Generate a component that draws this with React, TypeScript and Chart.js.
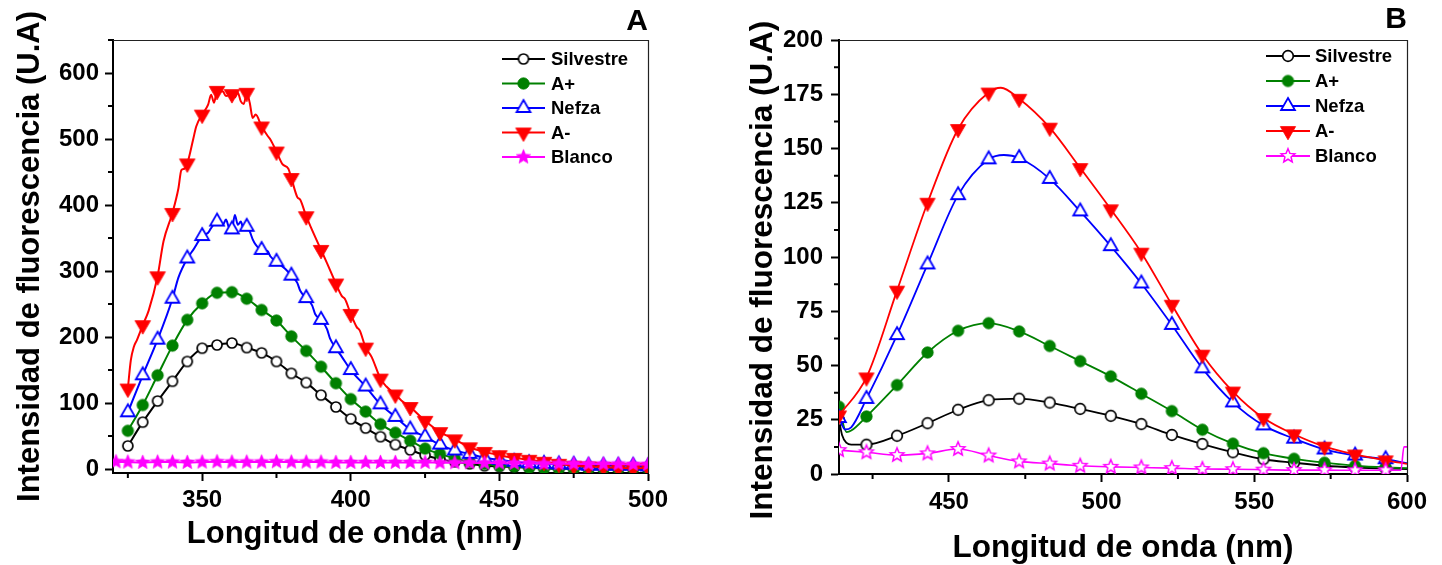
import React, { useEffect, useRef } from 'react';
import { Chart, registerables } from 'chart.js';

Chart.register(...registerables);

const FONT = "'Liberation Sans', Arial, Helvetica, sans-serif";

// ---------------- Panel A ----------------
const A_TICKS_X = [350, 400, 450, 500];
const A_MINOR_X = [325, 375, 425, 475];
const A_TICKS_Y = [0, 100, 200, 300, 400, 500, 600];
const A_MINOR_Y = [50, 150, 250, 350, 450, 550, 650];

const A_X = [325, 330, 335, 340, 345, 350, 355, 360, 365, 370, 375, 380, 385, 390, 395, 400, 405, 410,
  415, 420, 425, 430, 435, 440, 445, 450, 455, 460, 465, 470, 475, 480, 485, 490, 495, 500];

const A_SILVESTRE = [35, 71, 103, 133, 163, 183, 188, 191, 184, 176, 163, 145, 131, 112, 94, 76, 62, 49,
  37, 29, 21, 15, 11, 8, 5, 4, 3, 2, 1.5, 1, 1, 0.5, 0.5, 0.5, 0.5, 0.5];

const A_APLUS = [58, 97, 142, 187, 226, 251, 267, 268, 258, 241, 225, 201, 179, 155, 130, 106, 87, 68,
  55, 43, 31, 23, 16, 11, 8, 5, 4, 2, 1, 0.5, 0.5, 0.5, 0.5, 0.5, 0.5, 0.5];

const A_NEFZA_X = [325, 330, 335, 340, 342, 345, 347, 350, 352, 353, 355, 357, 358, 359, 360, 361, 362, 363,
  364, 365, 366, 367, 368, 370, 372, 373, 375, 378, 380, 382, 383, 385, 387, 388, 390, 392, 393, 395, 397,
  400, 405, 410, 415, 420, 425, 430, 435, 440, 445, 450, 455, 460, 465, 470, 475, 480, 485, 490, 495, 500];
const A_NEFZA = [86, 142, 196, 258, 290, 319, 332, 353, 358, 365, 375, 370, 378, 366, 363, 385, 370, 375,
  362, 367, 360, 348, 340, 332, 330, 322, 314, 303, 293, 282, 270, 259, 248, 235, 226, 212, 198, 183, 170,
  150, 125, 98, 79, 60, 49, 37, 28, 23, 17, 14, 11, 9, 8, 7, 6.5, 5, 5, 5, 5, 4];

const A_AMINUS_X = [325, 326, 327, 328, 330, 332, 335, 337, 340, 342, 343, 344, 345, 347, 348, 350, 352, 353,
  354, 355, 357, 358, 360, 361, 362, 363, 364, 365, 366, 367, 368, 370, 372, 373, 375, 377, 379, 380, 382,
  383, 385, 387, 390, 392, 395, 397, 398, 400, 402, 403, 405, 407, 410, 412, 415, 417, 420, 425, 430, 435,
  440, 445, 450, 455, 460, 465, 470, 475, 480, 485, 490, 495, 500];
const A_AMINUS = [122, 165, 185, 195, 218, 240, 292, 345, 388, 425, 453, 455, 463, 500, 519, 537, 552, 567,
  555, 573, 572, 565, 568, 563, 570, 557, 553, 570, 555, 532, 537, 519, 505, 499, 481, 462, 455, 441, 412,
  408, 383, 362, 332, 312, 281, 262, 258, 235, 215, 210, 184, 170, 137, 125, 113, 104, 94, 73, 56, 45,
  33, 26, 21, 17, 14, 11, 8, 5, 4, 3, 2, 1, 2];

const A_BLANCO_X = [321, 325, 330, 335, 340, 345, 350, 355, 360, 365, 370, 375, 380, 385, 390, 395, 400, 405,
  410, 415, 420, 425, 430, 435, 440, 445, 450, 455, 460, 465, 470, 475, 480, 485, 490, 495, 500];
const A_BLANCO = [11, 10.5, 10, 10.5, 10.5, 10, 10.5, 11, 10.5, 10.5, 10.5, 11, 10.5, 10.5, 10.5, 10, 10, 10,
  10, 10, 10, 10, 9.5, 9.5, 9.5, 9, 9, 8.5, 8.5, 8, 8, 8, 7.5, 7.5, 7.5, 7, 7];

// ---------------- Panel B ----------------
const B_TICKS_X = [450, 500, 550, 600];
const B_MINOR_X = [425, 475, 525, 575];
const B_TICKS_Y = [0, 25, 50, 75, 100, 125, 150, 175, 200];
const B_MINOR_Y = [12.5, 37.5, 62.5, 87.5, 112.5, 137.5, 162.5, 187.5];

const B_MARK_X = [414, 423, 433, 443, 453, 463, 473, 483, 493, 503, 513, 523, 533, 543, 553, 563, 573, 583, 593];

const B_SILVESTRE_X = [414, 415, 416.5, 418, 423, 433, 443, 453, 463, 473, 483, 493, 503, 513, 523, 533, 543,
  553, 563, 573, 583, 593, 600];
const B_SILVESTRE = [25, 18, 14.3, 13.5, 13.5, 17.6, 23.4, 29.6, 34, 34.7, 32.9, 30, 26.8, 23, 18, 13.8, 10,
  6.8, 5.2, 3.8, 3, 2.5, 2.3];

const B_APLUS_X = [414, 416.5, 418, 423, 433, 443, 453, 463, 473, 483, 493, 503, 513, 523, 533, 543, 553, 563,
  573, 583, 593, 600];
const B_APLUS = [31, 19.3, 20, 26.5, 41, 56, 66, 69.5, 65.7, 59, 52, 45, 37, 29, 20.4, 14, 9.6, 7,
  5.2, 3.8, 3, 2.7];

const B_NEFZA_X = [414, 416, 418, 423, 433, 443, 453, 463, 468, 473, 483, 493, 503, 513, 523, 533, 543, 553,
  563, 573, 583, 593, 600];
const B_NEFZA = [25.8, 20.5, 21.5, 34.6, 64, 96.6, 128.5, 145, 147, 145.6, 136, 121, 105, 87.8, 68.7, 48.7, 33,
  22.4, 16.3, 11.3, 8.5, 6.8, 5];

const B_AMINUS_X = [414, 423, 433, 443, 453, 463, 467, 473, 483, 493, 503, 513, 523, 533, 543, 553, 563, 573,
  583, 593, 600];
const B_AMINUS = [27, 44.5, 84.5, 125, 159, 175.8, 178, 172.9, 159.6, 141, 122, 102, 78, 55, 38, 25.8, 18.3,
  12.6, 9, 6.3, 4.7];

const B_BLANCO_X = [414, 423, 433, 443, 453, 463, 473, 483, 493, 503, 513, 523, 533, 543, 553, 563, 573, 583,
  593, 598, 599, 600];
const B_BLANCO = [11, 10, 8.7, 9.5, 11.5, 8.5, 5.8, 4.8, 3.8, 3.3, 3, 2.7, 2.3, 2.2, 2, 1.8, 1.8, 1.7,
  1.7, 1.7, 12.5, 12.5];

const LABELS = ['Silvestre', 'A+', 'Nefza', 'A-', 'Blanco'];
const COLORS = ['#000000', '#008000', '#0000ff', '#ff0000', '#ff00ff'];

// ---------------- helpers ----------------
function makeMarker(shape: string, r: number, fill: string, stroke: string, lw: number): HTMLCanvasElement {
  const s = Math.ceil(2 * r + 2 * lw + 4);
  const c = document.createElement('canvas');
  c.width = s;
  c.height = s;
  const g = c.getContext('2d') as CanvasRenderingContext2D;
  const cx = s / 2;
  const cy = s / 2;
  g.beginPath();
  if (shape === 'circle') {
    g.arc(cx, cy, r, 0, Math.PI * 2);
  } else if (shape === 'triUp' || shape === 'triDown') {
    const d = shape === 'triUp' ? 1 : -1;
    g.moveTo(cx, cy - d * r);
    g.lineTo(cx + r * 0.866, cy + d * r * 0.5);
    g.lineTo(cx - r * 0.866, cy + d * r * 0.5);
    g.closePath();
  } else {
    for (let i = 0; i < 10; i++) {
      const rr = i % 2 === 0 ? r : r * 0.45;
      const a = -Math.PI / 2 + (i * Math.PI) / 5;
      const px = cx + rr * Math.cos(a);
      const py = cy + rr * Math.sin(a);
      if (i === 0) g.moveTo(px, py);
      else g.lineTo(px, py);
    }
    g.closePath();
  }
  g.fillStyle = fill;
  g.fill();
  if (lw > 0) {
    g.lineWidth = lw;
    g.strokeStyle = stroke;
    g.lineJoin = 'miter';
    g.stroke();
  }
  return c;
}

function makeSeries(label: string, xs: number[], ys: number[], marks: number[], color: string,
  marker: HTMLCanvasElement, lineWidth: number, order: number) {
  return {
    label,
    data: xs.map((x, i) => ({ x, y: ys[i] })),
    borderColor: color,
    backgroundColor: color,
    borderWidth: lineWidth,
    pointStyle: marker,
    pointRadius: (ctx: any) => (ctx.type === 'data' && marks.includes(xs[ctx.dataIndex]) ? 5 : 0),
    pointHoverRadius: 0,
    pointHitRadius: 0,
    cubicInterpolationMode: 'monotone',
    fill: false,
    order,
    legendMarker: marker,
  };
}

const framePlugin = {
  id: 'frame',
  afterDraw(chart: any, _args: any, opts: any) {
    const { ctx, chartArea: a } = chart;
    const xs = chart.scales.x;
    const ys = chart.scales.y;
    ctx.save();
    // top and right frame lines
    ctx.strokeStyle = '#222';
    ctx.lineWidth = 1.2;
    ctx.beginPath();
    ctx.moveTo(a.left, a.top + 0.5);
    ctx.lineTo(a.right + 0.5, a.top + 0.5);
    ctx.lineTo(a.right + 0.5, a.bottom);
    ctx.stroke();
    // minor ticks
    ctx.strokeStyle = '#000';
    ctx.lineWidth = 2;
    ctx.beginPath();
    (opts.minorX as number[]).forEach((v) => {
      const px = xs.getPixelForValue(v);
      ctx.moveTo(px, a.bottom);
      ctx.lineTo(px, a.bottom + 5);
    });
    (opts.minorY as number[]).forEach((v) => {
      const py = ys.getPixelForValue(v);
      ctx.moveTo(a.left, py);
      ctx.lineTo(a.left - 5, py);
    });
    ctx.stroke();
    // legend
    chart.data.datasets.forEach((ds: any, i: number) => {
      const y = a.top + opts.legTop + i * opts.legGap;
      const x0 = a.right + opts.legX0;
      const x1 = a.right + opts.legX1;
      ctx.strokeStyle = ds.borderColor;
      ctx.lineWidth = 2;
      ctx.beginPath();
      ctx.moveTo(x0, y);
      ctx.lineTo(x1, y);
      ctx.stroke();
      const m = ds.legendMarker as HTMLCanvasElement;
      ctx.drawImage(m, (x0 + x1) / 2 - m.width / 2, y - m.height / 2);
      ctx.fillStyle = '#000';
      ctx.font = `bold ${opts.legFont}px ${FONT}`;
      ctx.textAlign = 'left';
      ctx.textBaseline = 'middle';
      ctx.fillText(ds.label, a.right + opts.legTextX, y + 1);
    });
    ctx.restore();
  },
};

function buildOptions(p: {
  letter: string; xmin: number; xmax: number; ymin: number; ymax: number;
  ticksX: number[]; ticksY: number[]; minorX: number[]; minorY: number[];
  padRight: number; yWidth: number; xHeight: number; xTitle: string; yTitle: string; titleSize: number;
  yTitlePad: number; xTitlePad: number; tickPadY: number; tickPadX: number;
  letterPadTop: number; legTop: number; legGap: number; legX0: number; legX1: number; legTextX: number;
}) {
  const tickFont = { family: FONT, size: 24, weight: 'bold' as const };
  const titleFont = { family: FONT, size: p.titleSize, weight: 'bold' as const, lineHeight: 1 };
  return {
    responsive: false,
    maintainAspectRatio: false,
    devicePixelRatio: 1,
    animation: false,
    events: [],
    layout: { padding: { top: 0, right: p.padRight, bottom: 0, left: 0 } },
    plugins: {
      legend: { display: false },
      tooltip: { enabled: false },
      title: {
        display: true,
        text: p.letter,
        align: 'end',
        color: '#000',
        font: { family: FONT, size: 30, weight: 'bold', lineHeight: 1 },
        padding: { top: p.letterPadTop, bottom: 10 - p.letterPadTop },
      },
      frame: {
        minorX: p.minorX, minorY: p.minorY,
        legTop: p.legTop, legGap: p.legGap, legX0: p.legX0, legX1: p.legX1, legTextX: p.legTextX, legFont: 18.5,
      },
    },
    scales: {
      x: {
        type: 'linear',
        min: p.xmin,
        max: p.xmax,
        afterBuildTicks: (s: any) => { s.ticks = p.ticksX.map((v) => ({ value: v })); },
        afterFit: (s: any) => { s.height = p.xHeight; },
        grid: { display: true, drawOnChartArea: false, drawTicks: true, tickLength: 8, tickWidth: 2, tickColor: '#000' },
        border: { display: true, color: '#000', width: 2 },
        ticks: { font: tickFont, color: '#000', padding: p.tickPadX, maxRotation: 0, autoSkip: false },
        title: { display: true, text: p.xTitle, color: '#000', font: titleFont, padding: { top: 0, bottom: p.xTitlePad } },
      },
      y: {
        type: 'linear',
        min: p.ymin,
        max: p.ymax,
        afterBuildTicks: (s: any) => { s.ticks = p.ticksY.map((v) => ({ value: v })); },
        afterFit: (s: any) => { s.width = p.yWidth; },
        grid: { display: true, drawOnChartArea: false, drawTicks: true, tickLength: 8, tickWidth: 2, tickColor: '#000' },
        border: { display: true, color: '#000', width: 2 },
        ticks: { font: tickFont, color: '#000', padding: p.tickPadY, autoSkip: false },
        title: { display: true, text: p.yTitle, color: '#000', font: titleFont, padding: { top: p.yTitlePad, bottom: 0 } },
      },
    },
  };
}

export default function App() {
  const refA = useRef<HTMLCanvasElement | null>(null);
  const refB = useRef<HTMLCanvasElement | null>(null);

  useEffect(() => {
    const mA = [
      makeMarker('circle', 5, '#ffffff', COLORS[0], 1.7),
      makeMarker('circle', 5.7, COLORS[1], COLORS[1], 0.8),
      makeMarker('triUp', 8, '#ffffff', COLORS[2], 1.8),
      makeMarker('triDown', 9, COLORS[3], COLORS[3], 0.8),
      makeMarker('star', 7.6, COLORS[4], COLORS[4], 0.6),
    ];
    const mB = [
      makeMarker('circle', 5.3, '#ffffff', COLORS[0], 1.7),
      makeMarker('circle', 5.7, COLORS[1], COLORS[1], 0.8),
      makeMarker('triUp', 8, '#ffffff', COLORS[2], 1.8),
      makeMarker('triDown', 8.8, COLORS[3], COLORS[3], 0.8),
      makeMarker('star', 7.2, '#ffffff', COLORS[4], 1.5),
    ];

    const dsA = [
      makeSeries(LABELS[0], A_X, A_SILVESTRE, A_X, COLORS[0], mA[0], 2, 4),
      makeSeries(LABELS[1], A_X, A_APLUS, A_X, COLORS[1], mA[1], 2, 3),
      makeSeries(LABELS[2], A_NEFZA_X, A_NEFZA, A_X, COLORS[2], mA[2], 2, 2),
      makeSeries(LABELS[3], A_AMINUS_X, A_AMINUS, A_X, COLORS[3], mA[3], 2, 1),
      makeSeries(LABELS[4], A_BLANCO_X, A_BLANCO, A_BLANCO_X, COLORS[4], mA[4], 2, 0),
    ];
    const dsB = [
      makeSeries(LABELS[0], B_SILVESTRE_X, B_SILVESTRE, B_MARK_X, COLORS[0], mB[0], 1.8, 4),
      makeSeries(LABELS[1], B_APLUS_X, B_APLUS, B_MARK_X, COLORS[1], mB[1], 1.8, 3),
      makeSeries(LABELS[2], B_NEFZA_X, B_NEFZA, B_MARK_X, COLORS[2], mB[2], 1.8, 2),
      makeSeries(LABELS[3], B_AMINUS_X, B_AMINUS, B_MARK_X, COLORS[3], mB[3], 1.8, 1),
      makeSeries(LABELS[4], B_BLANCO_X, B_BLANCO, B_MARK_X, COLORS[4], mB[4], 1.6, 0),
    ];

    const optA = buildOptions({
      letter: 'A', xmin: 320, xmax: 500, ymin: -6, ymax: 650,
      ticksX: A_TICKS_X, ticksY: A_TICKS_Y, minorX: A_MINOR_X, minorY: A_MINOR_Y,
      padRight: 72, yWidth: 113, xHeight: 92,
      xTitle: 'Longitud de onda (nm)      ',
      yTitle: 'Intensidad de fluorescencia (U.A)',
      titleSize: 31,
      yTitlePad: 14.5, xTitlePad: 15.5, tickPadY: 6, tickPadX: 5, letterPadTop: 7,
      legTop: 19, legGap: 24.5, legX0: -146, legX1: -103, legTextX: -97,
    });
    const optB = buildOptions({
      letter: 'B', xmin: 414, xmax: 600, ymin: 0, ymax: 200,
      ticksX: B_TICKS_X, ticksY: B_TICKS_Y, minorX: B_MINOR_X, minorY: B_MINOR_Y,
      padRight: 35, yWidth: 119, xHeight: 91,
      xTitle: 'Longitud de onda (nm)',
      yTitle: 'Intensidad de fluorescencia (U.A)   ',
      titleSize: 31.5,
      yTitlePad: 28, xTitlePad: 0.5, tickPadY: 8, tickPadX: 6, letterPadTop: 5,
      legTop: 16, legGap: 25, legX0: -141, legX1: -97, legTextX: -92,
    });

    const chartA = new Chart(refA.current as HTMLCanvasElement, {
      type: 'line',
      data: { datasets: dsA as any },
      options: optA as any,
      plugins: [framePlugin],
    });
    const chartB = new Chart(refB.current as HTMLCanvasElement, {
      type: 'line',
      data: { datasets: dsB as any },
      options: optB as any,
      plugins: [framePlugin],
    });
    return () => {
      chartA.destroy();
      chartB.destroy();
    };
  }, []);

  return (
    <div style={{ position: 'absolute', left: 0, top: 0, width: 1442, height: 565, background: '#ffffff' }}>
      <canvas ref={refA} width={720} height={565}
        style={{ position: 'absolute', left: 0, top: 0, width: 720, height: 565 }} />
      <canvas ref={refB} width={722} height={565}
        style={{ position: 'absolute', left: 720, top: 0, width: 722, height: 565 }} />
    </div>
  );
}
